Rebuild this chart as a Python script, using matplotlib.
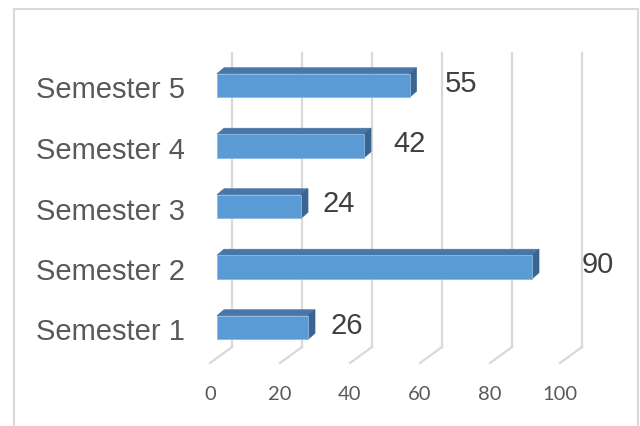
import matplotlib
matplotlib.use("Agg")
import matplotlib.pyplot as plt
from matplotlib.patches import Polygon
from matplotlib.lines import Line2D

categories = ["Semester 1", "Semester 2", "Semester 3", "Semester 4", "Semester 5"]
values = [26, 90, 24, 42, 55]
ticks = [0, 20, 40, 60, 80, 100]

W, H = 640, 427
fig = plt.figure(figsize=(W / 100, H / 100), dpi=100)
ax = fig.add_axes([0, 0, 1, 1])
ax.axis("off")

# scale: 3.5 px per unit, 60.5 px per category
PXU = 3.5
PXC = 60.5
x0px = 217
y0px = H - 328.5
ax.set_xlim(-x0px / PXU, (W - x0px) / PXU)
ax.set_ylim(-y0px / PXC, (H - y0px) / PXC)

def dy(px):
    return px / PXC

def dx(px):
    return px / PXU

grid_c = "#D9D9D9"
# back wall gridlines and floor lines
floor_front_y = dy((H - 364) - y0px)
floor_back_y = dy((H - 348) - y0px)
grid_top_y = dy((H - 54) - y0px)
for t in ticks:
    xb = t + dx(15)
    xf = t - dx(7)
    ax.add_line(Line2D([xb, xb], [floor_back_y, grid_top_y], color=grid_c, lw=1.6, zorder=1))
    ax.add_line(Line2D([xf, xb], [floor_front_y, floor_back_y], color=grid_c, lw=1.6, zorder=1))
    ax.text(xf, dy((H - 395) - y0px), str(t), ha="center", va="center",
            fontsize=14.5, color="#595959", family="Lato")

# bars
bh = dy(23.5) / 2
ddx, ddy = dx(7), dy(6)
front_c = "#5B9BD5"
top_c = "#4677A8"
side_c = "#3A6591"
for i, v in enumerate(values):
    yb, yt = i - bh, i + bh
    top = Polygon([(0, yt), (v, yt), (v + ddx, yt + ddy), (ddx, yt + ddy)],
                  closed=True, fc=top_c, ec=top_c, lw=0.5, zorder=3)
    side = Polygon([(v, yb), (v + ddx, yb + ddy), (v + ddx, yt + ddy), (v, yt)],
                   closed=True, fc=side_c, ec=side_c, lw=0.5, zorder=3)
    front = Polygon([(0, yb), (v, yb), (v, yt), (0, yt)],
                    closed=True, fc=front_c, ec="#8DB8E2", lw=0.6, zorder=4)
    ax.add_patch(top)
    ax.add_patch(side)
    ax.add_patch(front)
    ax.text(v * 1.12 + 8.0, i + dy(3), str(v), ha="center", va="center",
            fontsize=21, color="#404040", family="Liberation Sans")
    ax.text(dx(185 - x0px), i - dy(4), categories[i], ha="right", va="center",
            fontsize=21, color="#595959", family="Liberation Sans")

# outer border
bc = "#D9D9D9"
fig.add_artist(Line2D([13.5 / W, 13.5 / W], [0, 1 - 10 / H], color=bc, lw=1.5, transform=fig.transFigure))
fig.add_artist(Line2D([637.5 / W, 637.5 / W], [0, 1 - 10 / H], color=bc, lw=1.5, transform=fig.transFigure))
fig.add_artist(Line2D([13.5 / W, 637.5 / W], [1 - 10 / H, 1 - 10 / H], color=bc, lw=1.5, transform=fig.transFigure))

fig.savefig("out.png", dpi=100)
